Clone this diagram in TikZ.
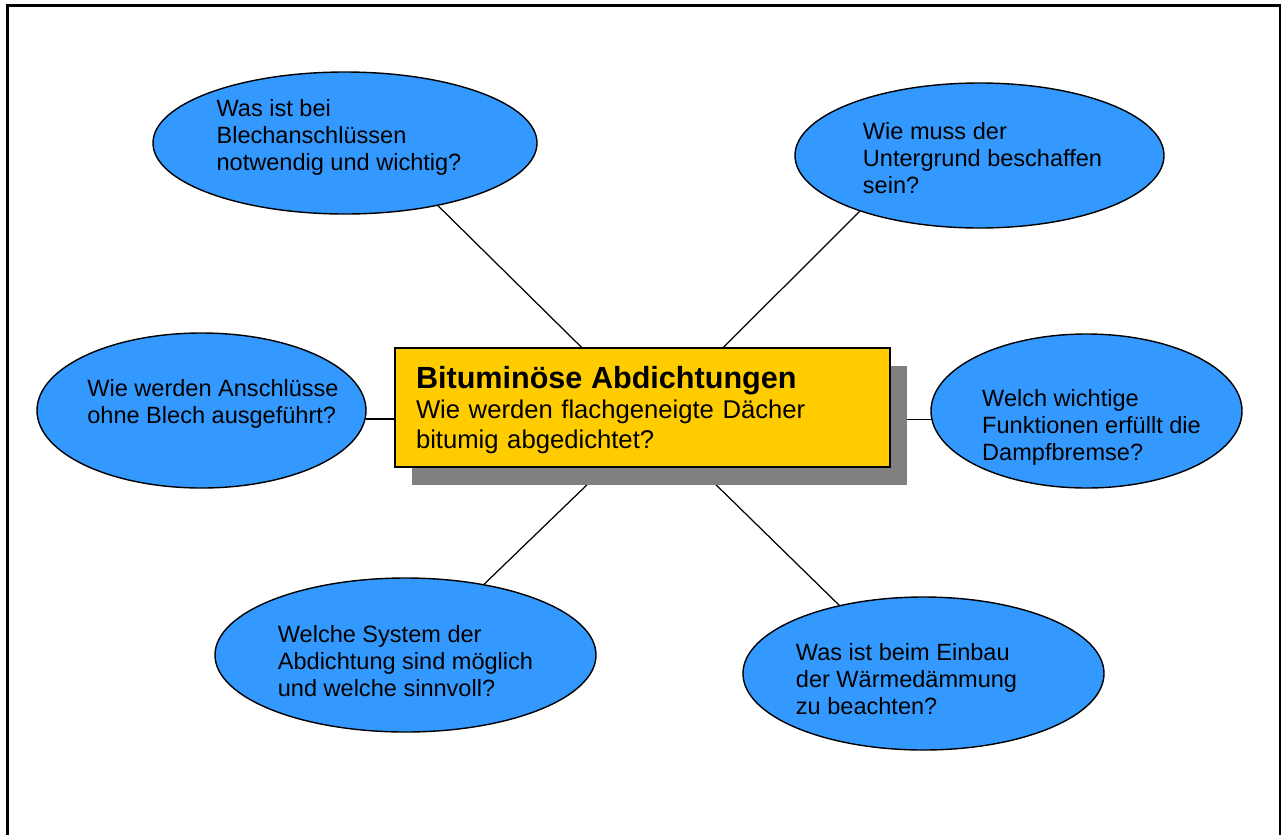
\documentclass[tikz,border=0pt]{standalone}
\usepackage{fontspec}
\setmainfont{Liberation Sans}
\usetikzlibrary{shapes.geometric,shadows,backgrounds}

\definecolor{bubbleblue}{HTML}{3399FF}
\definecolor{boxyellow}{HTML}{FFCC00}
\definecolor{shadowgray}{HTML}{808080}

\begin{document}
\begin{tikzpicture}[
    bubble/.style={ellipse, draw, line width=0.8pt, fill=bubbleblue, inner sep=0pt},
    qtext/.style={align=left, inner sep=0pt, font=\fontsize{13.4}{15.4}\selectfont},
    mainbox/.style={rectangle, draw, line width=1pt, fill=boxyellow, inner sep=0pt,
      minimum width=9.9cm, minimum height=2.38cm,
      drop shadow={shadow xshift=0.33cm, shadow yshift=-0.35cm, fill=shadowgray, opacity=1}},
    boxtext/.style={text width=9.06cm, align=left, inner sep=0pt,
      font=\fontsize{14.6}{17}\selectfont},
    link/.style={line width=0.7pt}]
      \useasboundingbox (0,0) rectangle (25.66,-16.68);

      % page frame (open at the bottom)
      \draw [line width=1.2pt] (0.15,-17) -- (0.15,-0.11) -- (25.6,-0.11) -- (25.6,-17);

      % central topic
      \node (T) [mainbox] at (12.85,-8.15)
          [label={[boxtext, yshift=-0.05cm]center:{\fontsize{17.4}{20.4}\selectfont\bfseries Bituminöse Abdichtungen}\\[0.6pt]
           Wie werden flachgeneigte Dächer\\bitumig abgedichtet?}] {};

      % questions round it
      \node (E1) [bubble, minimum width=7.68cm, minimum height=2.84cm] at (6.9,-2.86)
          [label={[qtext, xshift=-0.12cm, yshift=0.12cm]center:Was ist bei\\Blechanschlüssen\\notwendig und wichtig?}] {};
      \node (E2) [bubble, minimum width=7.38cm, minimum height=2.9cm] at (19.59,-3.11)
          [label={[qtext, xshift=0.06cm, yshift=-0.05cm]center:Wie muss der\\Untergrund beschaffen\\sein?}] {};
      \node (E3) [bubble, minimum width=6.58cm, minimum height=3.1cm] at (4.03,-8.21)
          [label={[qtext, xshift=0.23cm, yshift=0.14cm]center:Wie werden Anschlüsse\\ohne Blech ausgeführt?}] {};
      \node (E4) [bubble, minimum width=6.22cm, minimum height=3.08cm] at (21.73,-8.22)
          [label={[qtext, xshift=0.1cm, yshift=-0.32cm]center:Welch wichtige\\Funktionen erfüllt die\\Dampfbremse?}] {};
      \node (E5) [bubble, minimum width=7.62cm, minimum height=3.08cm] at (8.11,-13.1)
          [label={[qtext, xshift=0cm, yshift=-0.12cm]center:Welche System der\\Abdichtung sind möglich\\und welche sinnvoll?}] {};
      \node (E6) [bubble, minimum width=7.22cm, minimum height=3.06cm] at (18.47,-13.47)
          [label={[qtext, xshift=-0.34cm, yshift=-0.11cm]center:Was ist beim Einbau\\der Wärmedämmung\\zu beachten?}] {};

      % connectors, behind the box
      \begin{scope}[on background layer]
        \draw [link] (E1.-34) -- (T.center);
        \draw [link] (E2.205) -- ([xshift=0.41cm]T.center);
        \draw [link] (E3.-3) -- (E3.-3 -| T.west);
        \draw [link] (E4.183) -- (E4.183 -| T.east);
        \draw [link] (E5.42) -- ([xshift=0.49cm]T.center);
        \draw [link] (E6.141.5) -- ([xshift=-0.11cm]T.center);
      \end{scope}
\end{tikzpicture}
\end{document}
